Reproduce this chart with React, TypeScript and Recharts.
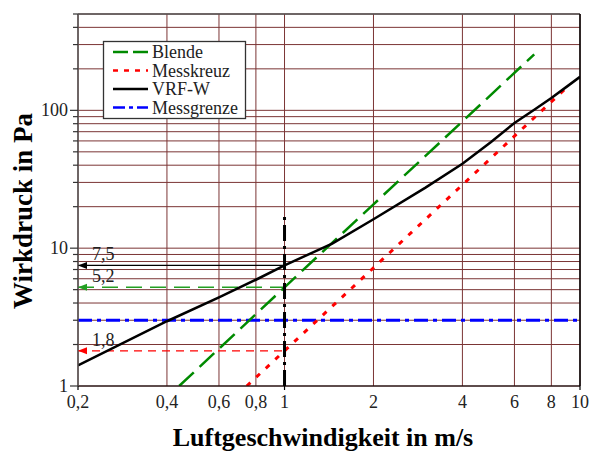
import React from 'react';
import { LineChart, Line, XAxis, YAxis, CartesianGrid, ReferenceLine } from 'recharts';

// values (log-log)
const xTicks = [0.2, 0.4, 0.6, 0.8, 1, 2, 4, 6, 8, 10];
const yTicks = [1, 2, 3, 4, 5, 6, 7, 8, 9, 10, 20, 30, 40, 50, 60, 70, 80, 90, 100, 200, 300, 400, 500];
const yLabelled = [1, 10, 100];
const xTickMarks = [0.2, 1, 10];

const blende = [
  { x: 0.44, y: 1.0 },
  { x: 1, y: 5.2 },
  { x: 2, y: 20.8 },
  { x: 4, y: 83 },
  { x: 7, y: 255 },
];
const messkreuz = [
  { x: 0.745, y: 1.0 },
  { x: 1, y: 1.8 },
  { x: 2, y: 7.2 },
  { x: 4, y: 28.8 },
  { x: 6, y: 65 },
  { x: 9, y: 146 },
];
const vrfW = [
  { x: 0.2, y: 1.41 },
  { x: 0.4, y: 2.95 },
  { x: 0.6, y: 4.4 },
  { x: 0.8, y: 5.9 },
  { x: 1, y: 7.5 },
  { x: 1.45, y: 10.8 },
  { x: 2, y: 16.2 },
  { x: 3, y: 27.5 },
  { x: 4, y: 41 },
  { x: 5, y: 59 },
  { x: 6, y: 81 },
  { x: 7, y: 101 },
  { x: 8, y: 123 },
  { x: 9, y: 148 },
  { x: 10, y: 175 },
];
const messgrenze = [
  { x: 0.2, y: 3 },
  { x: 10, y: 3 },
];
const markerV1 = [
  { x: 1, y: 1 },
  { x: 1, y: 18 },
];
const ann75 = [
  { x: 0.2, y: 7.5 },
  { x: 1, y: 7.5 },
];
const ann52 = [
  { x: 0.2, y: 5.2 },
  { x: 1, y: 5.2 },
];
const ann18 = [
  { x: 0.2, y: 1.8 },
  { x: 1, y: 1.8 },
];

const FONT = '"Liberation Serif", "Times New Roman", serif';
const GRID = '#7b3535';

const fmt = (v: number) => String(v).replace('.', ',');

const YTick = (props: any) => {
  const { x, y, payload } = props;
  const major = yLabelled.includes(payload.value);
  return (
    <g>
      <line x1={x - (major ? 8 : 5)} x2={x} y1={y} y2={y} stroke="#333" strokeWidth={1.2} />
      {major && (
        <text x={x - 10} y={y} textAnchor="end" dominantBaseline="central" fontFamily={FONT} fontSize={18} fill="#222">
          {payload.value}
        </text>
      )}
    </g>
  );
};

const XTick = (props: any) => {
  const { x, y, payload } = props;
  return (
    <g>
      {xTickMarks.includes(payload.value) && <line x1={x} x2={x} y1={y} y2={y + 4} stroke="#000" strokeWidth={1.2} />}
      <text x={x} y={y + 22} textAnchor="middle" fontFamily={FONT} fontSize={18} fill="#222">
        {fmt(payload.value)}
      </text>
    </g>
  );
};

// arrowhead at the axis end plus the value text
const arrowDot = (color: string, label: string) => (props: any) => {
  const { cx, cy, index } = props;
  if (index !== 0) return <g key={`d-${label}-${index}`} />;
  return (
    <g key={`d-${label}-${index}`}>
      <path d={`M${cx},${cy} L${cx + 9},${cy - 3.5} L${cx + 9},${cy + 3.5} Z`} fill={color} />
      <text x={cx + 14} y={cy - 5} fontFamily={FONT} fontSize={18} fill="#222">
        {label}
      </text>
    </g>
  );
};

const legendItems = [
  { name: 'Blende', color: '#008a00', dash: '15 5', width: 2.5 },
  { name: 'Messkreuz', color: '#ff0000', dash: '5 6', width: 2.5 },
  { name: 'VRF-W', color: '#000000', dash: undefined, width: 2.5 },
  { name: 'Messgrenze', color: '#0000ff', dash: '12 4 4 4', width: 2.5 },
];

export default function App() {
  return (
    <div style={{ position: 'absolute', left: 0, top: 0, width: 591, height: 454, background: '#fff' }}>
      <LineChart width={591} height={454} margin={{ top: 14, right: 11, bottom: 0, left: 0 }}>
        <CartesianGrid stroke={GRID} strokeWidth={1} />
        <XAxis
          dataKey="x"
          type="number"
          scale="log"
          domain={[0.2, 10]}
          allowDataOverflow
          ticks={xTicks}
          interval={0}
          height={68}
          tickSize={0}
          tickMargin={0}
          tick={<XTick />}
          axisLine={{ stroke: '#000', strokeWidth: 1.2 }}
        />
        <YAxis
          dataKey="y"
          type="number"
          scale="log"
          domain={[1, 500]}
          allowDataOverflow
          ticks={yTicks}
          interval={0}
          width={78}
          tickSize={0}
          tickMargin={0}
          tick={<YTick />}
          axisLine={{ stroke: '#555', strokeWidth: 1.5 }}
        />
        <ReferenceLine y={500} stroke="#555" strokeWidth={1.5} />
        <ReferenceLine x={10} stroke="#000" strokeWidth={1.5} />

        <Line data={ann75} dataKey="y" stroke="#000" strokeWidth={1.3} dot={arrowDot('#000', '7,5')} isAnimationActive={false} />
        <Line data={ann52} dataKey="y" stroke="#22a022" strokeWidth={1.5} strokeDasharray="16 8" dot={arrowDot('#22a022', '5,2')} isAnimationActive={false} />
        <Line data={ann18} dataKey="y" stroke="#ff0000" strokeWidth={1.2} strokeDasharray="8 6" dot={arrowDot('#ff0000', '1,8')} isAnimationActive={false} />

        <Line data={messgrenze} dataKey="y" stroke="#0000ff" strokeWidth={3} strokeDasharray="14 5 4 5" dot={false} isAnimationActive={false} />
        <Line data={blende} dataKey="y" stroke="#008a00" strokeWidth={2.5} strokeDasharray="20 8" dot={false} isAnimationActive={false} />
        <Line data={messkreuz} dataKey="y" stroke="#ff0000" strokeWidth={3} strokeDasharray="5 8" dot={false} isAnimationActive={false} />
        <Line data={vrfW} dataKey="y" stroke="#000" strokeWidth={2.5} dot={false} isAnimationActive={false} />
        <Line data={markerV1} dataKey="y" stroke="#000" strokeWidth={3} strokeDasharray="16 5 3 5" dot={false} isAnimationActive={false} />
      </LineChart>

      <svg width={591} height={454} style={{ position: 'absolute', left: 0, top: 0, pointerEvents: 'none' }}>
        <text x={323} y={446} textAnchor="middle" fontFamily={FONT} fontWeight="bold" fontSize={26} fill="#000">
          Luftgeschwindigkeit in m/s
        </text>
        <text
          x={32}
          y={211}
          transform="rotate(-90 32 211)"
          textAnchor="middle"
          fontFamily={FONT}
          fontWeight="bold"
          fontSize={27}
          fill="#000"
        >
          Wirkdruck in Pa
        </text>

        <rect x={103.5} y={41.5} width={142} height={77} fill="#fff" stroke="#333" strokeWidth={1.3} />
        {legendItems.map((it, i) => {
          const cy = 52 + i * 18.5;
          return (
            <g key={it.name}>
              <line x1={113} x2={148} y1={cy} y2={cy} stroke={it.color} strokeWidth={it.width} strokeDasharray={it.dash} />
              <text x={152} y={cy} dominantBaseline="central" fontFamily={FONT} fontSize={18} fill="#222">
                {it.name}
              </text>
            </g>
          );
        })}
      </svg>
    </div>
  );
}
